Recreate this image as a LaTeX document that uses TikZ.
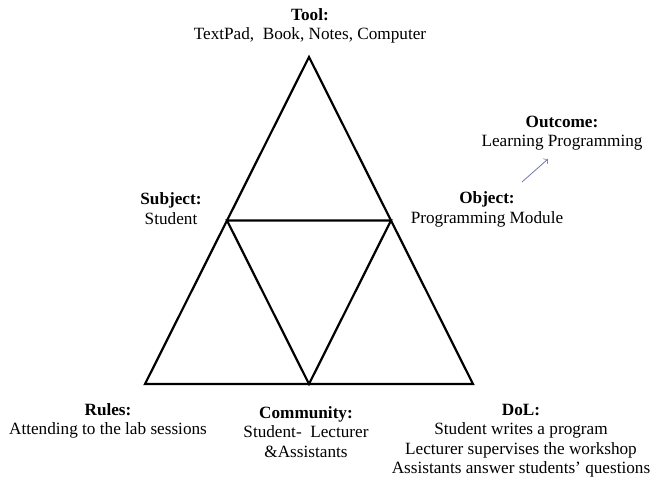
\documentclass[tikz,border=0pt]{standalone}
\usepackage{fontspec}
\setmainfont{Liberation Serif}
\definecolor{arrowblue}{RGB}{112,120,172}
\begin{document}
\begin{tikzpicture}[x=0.5pt,y=-0.5pt]
\tikzstyle{every node}=[align=center,inner sep=0pt,font=\fontsize{8.6}{9.75}\selectfont];
\useasboundingbox (0,0) rectangle (654,482);

  % outer and inner triangle
  \coordinate (top) at (309,57);
  \coordinate (bl) at (145,384);
  \coordinate (br) at (473,384);
  \coordinate (ml) at (227,220.5);
  \coordinate (mr) at (391,220.5);
  \coordinate (mb) at (309,384);

  \foreach \a/\b/\c in {top/bl/br, ml/mr/mb}
\draw [line width=1.1pt] (\a) -- (\b) -- (\c) -- cycle;

  \node (tool) at (310,26) {\textbf{Tool:}\\TextPad,\ \ Book, Notes, Computer};
  \node (subject) at (171,208.5) {\textbf{Subject:}\\Student};
  \node (object) at (487,209.5) {\textbf{Object:}\\Programming Module};
  \node (outcome) at (562,133) {\textbf{Outcome:}\\Learning Programming};
  \node (rules) at (108,421) {\textbf{Rules:}\\Attending to the lab sessions};
  \node (community) at (306,432) {\textbf{Community:}\\Student-\ \ Lecturer\\\&Assistants};
  \node (dol) at (521,440.5) {\textbf{DoL:}\\Student writes a program\\Lecturer supervises the workshop\\Assistants answer students' questions};

  \coordinate (otail) at (522,182);
  \coordinate (ohead) at (548,159);
   \draw [->, arrowblue, line width=0.4pt] (otail) -- (ohead);

\end{tikzpicture}
\end{document}
